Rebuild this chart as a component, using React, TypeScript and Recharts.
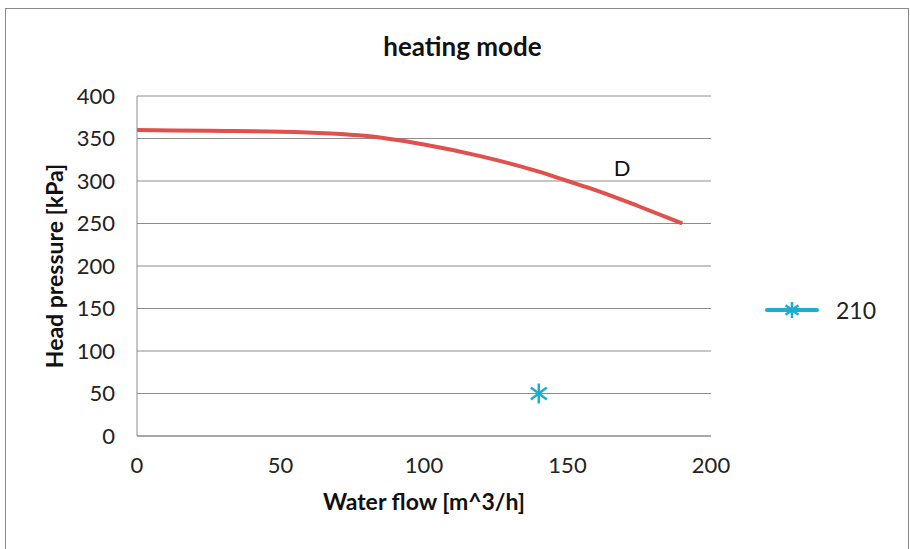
import { ComposedChart, Line, Scatter, XAxis, YAxis, CartesianGrid, ReferenceDot } from 'recharts';

document.body.style.margin = '0';

// curve "D"
const flowD = [0, 25, 50, 80, 100, 120, 140, 150, 160, 175, 190];
const headD = [360, 359, 358, 353, 343, 329, 311, 300, 289, 270, 250];

// series "210"
const flow210 = [140];
const head210 = [50];

const xTicks = [0, 50, 100, 150, 200];
const yTicks = [0, 50, 100, 150, 200, 250, 300, 350, 400];

const curveData = flowD.map((x, i) => ({ x, y: headD[i] }));
const pointData = flow210.map((x, i) => ({ x, y: head210[i] }));

const RED = '#E0504C';
const CYAN = '#1AAFCD';
const GRAY = '#8C8C8C';
const FONT = 'Lato, "Open Sans", sans-serif';

const Star = ({ cx, cy, size = 9, color = CYAN }: { cx: number; cy: number; size?: number; color?: string }) => {
  const d = size * 0.8;
  return (
    <g stroke={color} strokeWidth={2.5}>
      <line x1={cx} y1={cy - size} x2={cx} y2={cy + size} />
      <line x1={cx - d} y1={cy - d * 0.75} x2={cx + d} y2={cy + d * 0.75} />
      <line x1={cx - d} y1={cy + d * 0.75} x2={cx + d} y2={cy - d * 0.75} />
    </g>
  );
};

const LegendBox = () => (
  <div style={{ display: 'flex', alignItems: 'center', fontFamily: FONT, fontSize: 23, color: '#222' }}>
    <svg width={56} height={24}>
      <line x1={3} y1={12} x2={53} y2={12} stroke={CYAN} strokeWidth={4} strokeLinecap="round" />
      <Star cx={28} cy={12} size={8} />
    </svg>
    <span style={{ marginLeft: 16 }}>210</span>
  </div>
);

export default function App() {
  return (
    <div style={{ position: 'relative', width: 910, height: 549, background: '#fff', overflow: 'hidden' }}>
      <div style={{ position: 'absolute', left: 5, top: 8, width: 904, height: 560, border: '1px solid #8a8a8a', boxSizing: 'border-box' }} />
      <div style={{ position: 'absolute', left: 5, width: 915, top: 30, textAlign: 'center', fontFamily: FONT, fontWeight: 700, fontSize: 26, color: '#111' }}>
        heating mode
      </div>
      <div style={{ position: 'absolute', left: 0, top: 0 }}>
        <ComposedChart width={910} height={549} margin={{ top: 96, right: 199, bottom: 0, left: 0 }}>
          <CartesianGrid vertical={false} stroke={GRAY} strokeWidth={1} />
          <XAxis
            type="number"
            dataKey="x"
            domain={[0, 200]}
            ticks={xTicks}
            stroke={GRAY}
            tickLine={false}
            tickSize={0}
            tickMargin={21}
            height={113}
            tick={{ fill: '#222', fontSize: 22, fontFamily: FONT }}
            label={{ value: 'Water flow [m^3/h]', position: 'insideTop', offset: 58, style: { fill: '#111', fontSize: 23, fontWeight: 700, fontFamily: FONT } }}
          />
          <YAxis
            type="number"
            domain={[0, 400]}
            ticks={yTicks}
            stroke={GRAY}
            tickLine={false}
            tickSize={0}
            tickMargin={22}
            width={137}
            tick={{ fill: '#222', fontSize: 22, fontFamily: FONT }}
            label={{ value: 'Head pressure [kPa]', angle: -90, position: 'insideLeft', offset: 55, style: { textAnchor: 'middle', fill: '#111', fontSize: 23, fontWeight: 700, fontFamily: FONT } }}
          />
          <Line
            data={curveData}
            dataKey="y"
            type="monotone"
            stroke={RED}
            strokeWidth={4}
            dot={false}
            activeDot={false}
            legendType="none"
            isAnimationActive={false}
          />
          <Scatter
            data={pointData}
            dataKey="y"
            name="210"
            fill={CYAN}
            shape={(p: any) => <Star cx={p.cx} cy={p.cy} size={10} />}
            isAnimationActive={false}
          />
          <ReferenceDot
            x={169}
            y={315}
            r={0}
            fill="none"
            stroke="none"
            label={{ value: 'D', position: 'center', style: { fill: '#111', fontSize: 22, fontFamily: FONT } }}
          />
        </ComposedChart>
      </div>
      <div style={{ position: 'absolute', left: 764, top: 296 }}>
        <LegendBox />
      </div>
    </div>
  );
}
